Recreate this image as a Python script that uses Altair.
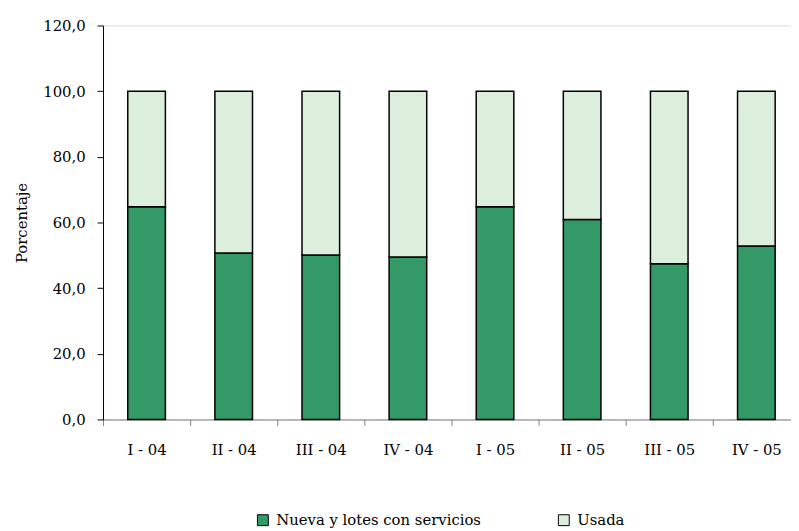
import altair as alt
import pandas as pd

quarters = ["I - 04", "II - 04", "III - 04", "IV - 04", "I - 05", "II - 05", "III - 05", "IV - 05"]
nueva = [64.8, 50.7, 50.1, 49.5, 64.8, 60.9, 47.4, 52.8]
usada = [35.2, 49.3, 49.9, 50.5, 35.2, 39.1, 52.6, 47.2]
series = ["Nueva y lotes con servicios", "Usada"]
colors = ["#339966", "#dcefdc"]
y_ticks = [0, 20, 40, 60, 80, 100, 120]

rows = []
for i, (q, a, b) in enumerate(zip(quarters, nueva, usada)):
    rows.append({"idx": i, "trimestre": q, "serie": series[0], "valor": a, "orden": 0})
    rows.append({"idx": i, "trimestre": q, "serie": series[1], "valor": b, "orden": 1})
df = pd.DataFrame(rows)

# band boundaries (ticks) and label lookup
boundaries = [i - 0.5 for i in range(len(quarters))]
label_list = "[" + ",".join("'" + q + "'" for q in quarters) + "]"
label_expr = label_list + "[round(datum.value + 0.5)]"

FONT = "DejaVu Serif"
W = 695
STEP = 88.0

chart = alt.Chart(df).mark_bar(size=38, stroke="black", strokeWidth=1.5).encode(
    x=alt.X("idx:Q", title=None,
            scale=alt.Scale(domain=[-0.5, -0.5 + W / STEP], nice=False, zero=False, padding=0),
            axis=alt.Axis(values=boundaries, labelExpr=label_expr, labelOffset=STEP / 2,
                          labelFlush=False, labelOverlap=False, labelAngle=0,
                          grid=False, tickSize=6,
                          domainColor="#808080", tickColor="#808080",
                          labelPadding=17, labelFont=FONT, labelFontSize=15,
                          labelColor="black")),
    y=alt.Y("valor:Q", stack="zero", title="Porcentaje",
            scale=alt.Scale(domain=[0, 120], nice=False),
            axis=alt.Axis(values=y_ticks, grid=False, tickSize=6,
                          domainColor="black", tickColor="black",
                          labelExpr="replace(format(datum.value, '.1f'), '.', ',')",
                          labelPadding=12, labelFont=FONT, labelFontSize=15,
                          labelColor="black",
                          titleFont=FONT, titleFontSize=15, titleFontWeight="normal",
                          titleColor="black", titlePadding=13)),
    color=alt.Color("serie:N", sort=series,
                    scale=alt.Scale(domain=series, range=colors),
                    legend=alt.Legend(title=None, orient="none", direction="horizontal",
                                      legendX=154, legendY=492,
                                      symbolType="square", symbolSize=121,
                                      symbolStrokeColor="black", symbolStrokeWidth=1,
                                      symbolOpacity=1, labelLimit=400,
                                      labelFont=FONT, labelFontSize=15,
                                      labelColor="black", labelOffset=6,
                                      columnPadding=75)),
    order=alt.Order("orden:Q", sort="ascending"),
    tooltip=["trimestre:N", "serie:N", "valor:Q"],
).properties(
    width=W,
    height=398,
    autosize=alt.AutoSizeParams(type="none"),
    padding={"left": 96, "top": 15, "right": 0, "bottom": 109},
).configure_view(stroke=None).configure(background="white")

chart.save("out.html", embed_options={"renderer": "svg", "actions": False})
